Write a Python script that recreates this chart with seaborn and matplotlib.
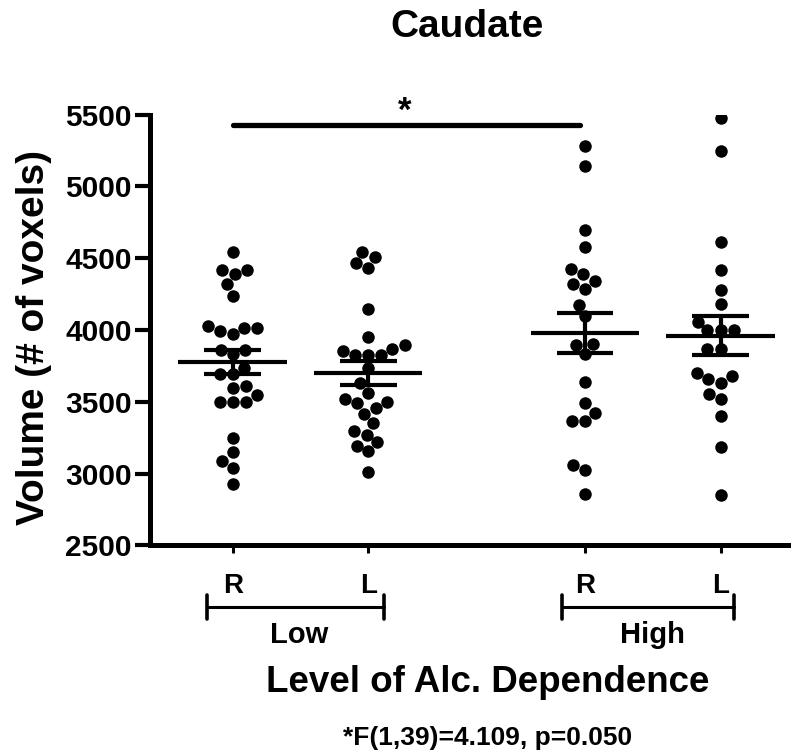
import pandas as pd
import matplotlib
matplotlib.use("Agg")
import matplotlib.pyplot as plt
import matplotlib.transforms as mtransforms
import seaborn as sns

# Volumen del caudado (# de voxels) por grupo y hemisferio
low_r = [4540, 4420, 4390, 4420, 4319, 4240,
         4031, 4012, 3972, 3991, 4014,
         3864, 3830, 3864,
         3733, 3691, 3691,
         3610, 3594,
         3501, 3501, 3501, 3548,
         3248, 3148, 3086, 3040, 2929]
low_l = [4510, 4540, 4464, 4434, 4148, 3954,
         3894, 3853, 3825, 3825, 3825, 3871,
         3737, 3633,
         3564, 3518, 3501, 3488, 3456,
         3414, 3349,
         3271, 3294, 3195, 3217, 3155, 3010]
high_r = [5279, 5145, 4695, 4575,
          4422, 4390, 4344, 4319, 4284,
          4171, 4095, 3894, 3899, 3830,
          3638, 3488, 3425, 3368, 3368,
          3056, 3026, 2860]
high_l = [5480, 5244, 4614, 4418, 4280, 4183,
          4056, 3998, 3998, 3998, 3871, 3871,
          3702, 3679, 3656, 3633, 3553, 3518,
          3402, 3187, 2853]

grupos = ["Low R", "Low L", "High R", "High L"]
posiciones = [0.0, 1.0, 2.6, 3.6]
etiquetas_x = ["R", "L", "R", "L"]
niveles = ["Low", "High"]
ticks_y = [2500, 3000, 3500, 4000, 4500, 5000, 5500]

valores = [low_r, low_l, high_r, high_l]
filas = []
for grupo, pos, vals in zip(grupos, posiciones, valores):
    for v in vals:
        filas.append({"grupo": grupo, "pos": pos, "volumen": v})
df = pd.DataFrame(filas)

sns.set_style("ticks")
plt.rcParams['font.family'] = ['Liberation Sans', 'DejaVu Sans']
plt.rcParams['font.weight'] = 'bold'
plt.rcParams['text.color'] = 'black'
plt.rcParams['axes.labelcolor'] = 'black'

fig = plt.figure(figsize=(7.91, 7.55), dpi=100)
ax = fig.add_axes([150 / 791, 209.7 / 755, 641 / 791, 430.6 / 755])

sns.swarmplot(data=df, x="pos", y="volumen", native_scale=True, orient="x",
              color="black", size=9, linewidth=0, ax=ax)

# media +/- error estandar
resumen = df.groupby("pos")["volumen"].agg(["mean", "sem"])
for pos, fila in resumen.iterrows():
    m, e = fila["mean"], fila["sem"]
    ax.hlines(m, pos - 0.40, pos + 0.40, color="black", lw=3, zorder=5)
    ax.hlines([m - e, m + e], pos - 0.21, pos + 0.21, color="black", lw=3, zorder=5)
    ax.vlines(pos, m - e, m + e, color="black", lw=3, zorder=5)

ax.set_xlim(-0.61, 4.12)
ax.set_ylim(2500, 5500)
ax.set_yticks(ticks_y)
ax.set_xticks(posiciones)
ax.set_xticklabels(etiquetas_x)
ax.set_xlabel("")
ax.set_ylabel("Volume (# of voxels)", fontsize=28, fontweight="bold", color="black")
ax.yaxis.set_label_coords(-0.153, 0.483)

sns.despine(ax=ax)
for lado in ["left", "bottom"]:
    ax.spines[lado].set_linewidth(3.6)
    ax.spines[lado].set_color("black")
ax.tick_params(axis="y", length=11, width=3, pad=2, labelsize=21.5, colors="black")
ax.tick_params(axis="x", length=6, width=2.2, pad=14, labelsize=20, colors="black")

# barra de significancia
ax.plot([0, 2.56], [5426, 5426], color="black", lw=3.8, solid_capstyle="round", clip_on=False)
ax.text(1.27, 5405, "*", ha="center", va="bottom", fontsize=25, fontweight="bold", color="black")

# corchetes de grupo bajo el eje x
trans = mtransforms.blended_transform_factory(ax.transData, ax.transAxes)
corchetes = [(-0.19, 1.116), (2.43, 3.70)]
for (x0, x1), nivel in zip(corchetes, niveles):
    ax.plot([x0, x1], [-0.143, -0.143], color="black", lw=2.2, transform=trans, clip_on=False)
    for xc in (x0, x1):
        ax.plot([xc, xc], [-0.115, -0.171], color="black", lw=2.6, transform=trans,
                clip_on=False, solid_capstyle="round")
    ax.text((x0 + x1) / 2 + 0.03, -0.208, nivel, ha="center", va="center",
            fontsize=21, fontweight="bold", color="black", transform=trans)

fig.text(0.590, 0.964, "Caudate", ha="center", va="center", fontsize=28,
         fontweight="bold", color="black")
fig.text(0.616, 0.0954, "Level of Alc. Dependence", ha="center", va="center",
         fontsize=26.5, fontweight="bold", color="black")
fig.text(0.616, 0.0225, "*F(1,39)=4.109, p=0.050", ha="center", va="center",
         fontsize=19, fontweight="bold", color="black")

fig.savefig("out.png", dpi=100)
